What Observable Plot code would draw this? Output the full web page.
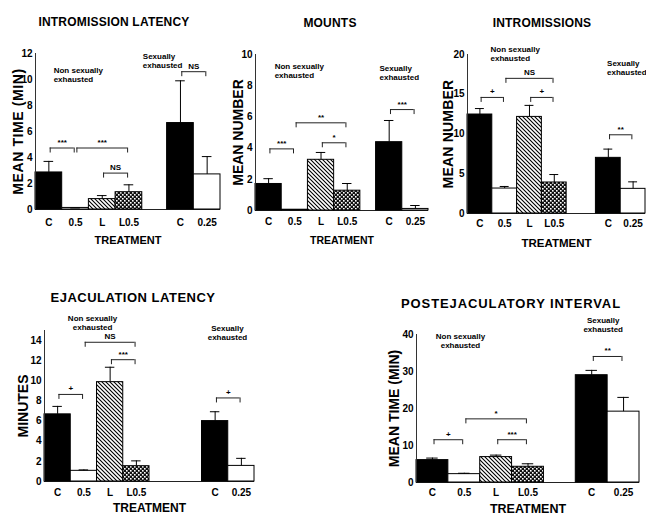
<!DOCTYPE html>
<html><head><meta charset="utf-8">
<script src="https://cdn.jsdelivr.net/npm/d3@7"></script>
<script src="https://cdn.jsdelivr.net/npm/@observablehq/plot@0.6"></script>
<style>
body{margin:0;background:#fff;}
#fig{position:relative;width:646px;height:516px;overflow:hidden;background:#fff;font-family:"Liberation Sans",Arial,Helvetica,sans-serif;}
#fig svg{position:absolute;}
#fig .ttl{position:absolute;width:300px;text-align:center;font-weight:bold;white-space:nowrap;line-height:1;color:#000;}
</style></head><body>
<svg width="0" height="0" style="position:absolute">
<defs>
<pattern id="diag" patternUnits="userSpaceOnUse" width="4" height="4">
<rect width="4" height="4" fill="white"/>
<path d="M-1,-1L5,5M-1,3L1,5M3,-1L5,1" stroke="black" stroke-width="1.1"/>
</pattern>
<pattern id="check" patternUnits="userSpaceOnUse" width="4" height="4">
<rect width="4" height="4" fill="#111"/>
<rect x="0" y="0" width="1.6" height="1.6" fill="white"/>
<rect x="2" y="2" width="1.6" height="1.6" fill="white"/>
</pattern>
</defs></svg>
<div id="fig"></div>
<script>
// ---- data ----
const treatments = ["C", "0.5", "L", "L0.5", "C", "0.25"];
const groupNames = ["Non sexually\nexhausted", "Sexually\nexhausted"];

const latencyMean = [2.85, 0.12, 0.8, 1.33, 6.65, 2.7];
const latencyErr  = [3.7, 0.12, 1.07, 1.9, 9.9, 4.07];
const mountsMean  = [1.7, 0.05, 3.25, 1.27, 4.38, 0.1];
const mountsErr   = [2.04, 0.05, 3.72, 1.73, 5.77, 0.32];
const intromMean  = [12.45, 3.14, 12.15, 3.9, 7.0, 3.1];
const intromErr   = [13.2, 3.4, 13.6, 4.9, 8.1, 3.98];
const ejacMean    = [6.67, 1.06, 9.87, 1.52, 6.0, 1.55];
const ejacErr     = [7.46, 1.15, 11.35, 2.05, 6.93, 2.3];
const peiMean     = [6.05, 2.26, 6.87, 4.25, 29.0, 19.15];
const peiErr      = [6.6, 2.5, 7.4, 5.06, 30.3, 23.0];

// significance brackets: [from index, to index, height, label]
const latencyBrackets = [[0,1,4.73,"***"],[1,3,4.73,"***"],[2,3,2.8,"NS"],[4,5,10.6,"NS"]];
const mountsBrackets  = [[0,1,3.95,"***"],[1,3,5.62,"**"],[2,3,4.34,"*"],[4,5,6.47,"***"]];
const intromBrackets  = [[0,1,14.6,"+"],[1,3,17.0,"NS"],[2,3,14.6,"+"],[4,5,9.9,"**"]];
const ejacBrackets    = [[0,1,8.65,"+"],[1,3,13.83,"NS"],[2,3,12.1,"***"],[4,5,8.3,"+"]];
const peiBrackets     = [[0,1,11.56,"+"],[1,3,17.2,"*"],[2,3,11.56,"***"],[4,5,34.06,"**"]];

const fills = {"C": "black", "0.5": "white", "L": "url(#diag)", "L0.5": "url(#check)", "0.25": "white"};
const FONT = "Liberation Sans, Arial, Helvetica, sans-serif";
const fig = document.getElementById("fig");

function panel(p) {
  const pos = i => i + (i >= 4 ? p.gap : 0) + 0.5;
  const rows = treatments.map((t, i) => ({t, c: pos(i), m: p.means[i], e: p.errs[i], fill: fills[t]}));
  const xmax = 6 + p.gap;
  const fh = p.height - p.mT - p.mB;
  const tk = 5 * p.ymax / fh;
  const br = p.brackets.map(([a, b, y, label]) => ({x1: pos(a) + 0.05, x2: pos(b) - 0.05, y, label}));
  const brEnds = br.flatMap(b => [{x: b.x1, y1: b.y, y2: b.y - tk}, {x: b.x2, y1: b.y, y2: b.y - tk}]);
  const notes = p.notes.map(([x, y, gi]) => ({x, y, text: groupNames[gi]}));
  const svg = Plot.plot({
    width: p.width, height: p.height,
    marginLeft: p.mL, marginRight: p.mR, marginTop: p.mT, marginBottom: p.mB,
    x: {domain: [0, xmax], axis: null},
    y: {domain: [0, p.ymax]},
    color: {type: "identity"},
    style: {fontFamily: FONT, fontWeight: "bold", background: "transparent", overflow: "visible", color: "black"},
    marks: [
      Plot.ruleY([0], {stroke: "#222", strokeWidth: 1}),
      Plot.rectY(rows, {x1: d => d.c - 0.5, x2: d => d.c + 0.5, y1: 0, y2: "m", fill: "fill", stroke: "black", strokeWidth: 1}),
      Plot.ruleX(rows, {x: "c", y1: "m", y2: "e", stroke: "black", strokeWidth: 1}),
      Plot.ruleY(rows, {x1: d => d.c - 0.18, x2: d => d.c + 0.18, y: "e", stroke: "black", strokeWidth: 1}),
      Plot.ruleX([0], {y1: 0, y2: p.ymax, stroke: "#333", strokeWidth: 1}),
      Plot.axisY({ticks: p.yticks, tickSize: 0, tickPadding: 3, fontSize: 10, fontWeight: "bold", label: null}),
      Plot.text(rows, {x: "c", text: "t", frameAnchor: "bottom", lineAnchor: "middle", dy: p.xPad, fontSize: 10, fontWeight: "bold"}),
      Plot.text([p.ylabel], {frameAnchor: "left", textAnchor: "middle", lineAnchor: "middle", rotate: -90, dx: p.yDx, fontSize: 14, fontWeight: "bold"}),
      Plot.text(["TREATMENT"], {frameAnchor: "bottom", lineAnchor: "middle", dy: p.tDy, fontSize: p.tSize, fontWeight: "bold"}),
      Plot.ruleY(br, {x1: "x1", x2: "x2", y: "y", stroke: "#222", strokeWidth: 1}),
      Plot.ruleX(brEnds, {x: "x", y1: "y1", y2: "y2", stroke: "#222", strokeWidth: 1}),
      Plot.text(br, {x: d => (d.x1 + d.x2) / 2, y: "y", text: "label", dy: -3, lineAnchor: "bottom", fontSize: 8, fontWeight: "bold"}),
      Plot.text(notes, {x: "x", y: "y", text: "text", textAnchor: p.noteAnchor, lineAnchor: "top", fontSize: 8, fontWeight: "bold", lineHeight: 1.15})
    ]
  });
  svg.style.left = p.left + "px";
  svg.style.top = p.top + "px";
  d3.select(svg).selectAll("text").filter(function() { return this.textContent === p.ylabel; })
    .attr("letter-spacing", p.yLs);
  fig.appendChild(svg);
  const t = document.createElement("div");
  t.className = "ttl";
  t.textContent = p.title;
  t.style.fontSize = p.titleSize + "px";
  t.style.letterSpacing = p.titleLs + "px";
  t.style.left = (p.titleX - 150) + "px";
  t.style.top = (p.titleY - p.titleSize * 0.5) + "px";
  fig.appendChild(t);
}

panel({left: 0, top: 0, width: 225, height: 250, mL: 35, mR: 5, mT: 53, mB: 41, gap: 0.93,
  ymax: 12, yticks: [0,2,4,6,8,10,12], means: latencyMean, errs: latencyErr, brackets: latencyBrackets,
  notes: [[0.68, 11.0, 0], [4.02, 12.1, 1]], noteAnchor: "start",
  title: "INTROMISSION LATENCY", titleX: 114, titleY: 22, titleSize: 12, titleLs: 0.2,
  ylabel: "MEAN TIME (MIN)", yDx: -17, yLs: 0.6, xPad: 13, tDy: 31, tSize: 11});

panel({left: 215, top: 0, width: 220, height: 250, mL: 40, mR: 7, mT: 54, mB: 40, gap: 0.6,
  ymax: 10, yticks: [0,2,4,6,8,10], means: mountsMean, errs: mountsErr, brackets: mountsBrackets,
  notes: [[0.73, 9.49, 0], [4.73, 9.36, 1]], noteAnchor: "start",
  title: "MOUNTS", titleX: 330, titleY: 23, titleSize: 12, titleLs: 0.2,
  ylabel: "MEAN NUMBER", yDx: -17, yLs: 0, xPad: 11, tDy: 30, tSize: 10.5});

panel({left: 430, top: 0, width: 216, height: 250, mL: 37, mR: 1, mT: 54, mB: 37, gap: 1.18,
  ymax: 20, yticks: [0,5,10,15,20], means: intromMean, errs: intromErr, brackets: intromBrackets,
  notes: [[0.93, 21.1, 0], [5.63, 19.4, 1]], noteAnchor: "start",
  title: "INTROMISSIONS", titleX: 542, titleY: 23, titleSize: 12, titleLs: 0.2,
  ylabel: "MEAN NUMBER", yDx: -19, yLs: 0.2, xPad: 10, tDy: 30, tSize: 11.5});

panel({left: 0, top: 280, width: 320, height: 236, mL: 44, mR: 66, mT: 50, mB: 35, gap: 2.0,
  ymax: 15, yticks: [0,2,4,6,8,10,12,14], means: ejacMean, errs: ejacErr, brackets: ejacBrackets,
  notes: [[1.83, 16.6, 0], [6.97, 15.6, 1]], noteAnchor: "middle",
  title: "EJACULATION LATENCY", titleX: 133, titleY: 297, titleSize: 13, titleLs: 0.5,
  ylabel: "MINUTES", yDx: -21, yLs: 0, xPad: 11, tDy: 27, tSize: 12});

panel({left: 320, top: 280, width: 326, height: 236, mL: 96, mR: 7, mT: 54, mB: 34, gap: 1.0,
  ymax: 40, yticks: [0,10,20,30,40], means: peiMean, errs: peiErr, brackets: peiBrackets,
  notes: [[1.38, 40.5, 0], [5.86, 44.9, 1]], noteAnchor: "middle",
  title: "POSTEJACULATORY INTERVAL", titleX: 511, titleY: 303, titleSize: 13, titleLs: 0.9,
  ylabel: "MEAN TIME (MIN)", yDx: -22, yLs: 0, xPad: 10, tDy: 26, tSize: 12.5});
</script>
</body></html>
